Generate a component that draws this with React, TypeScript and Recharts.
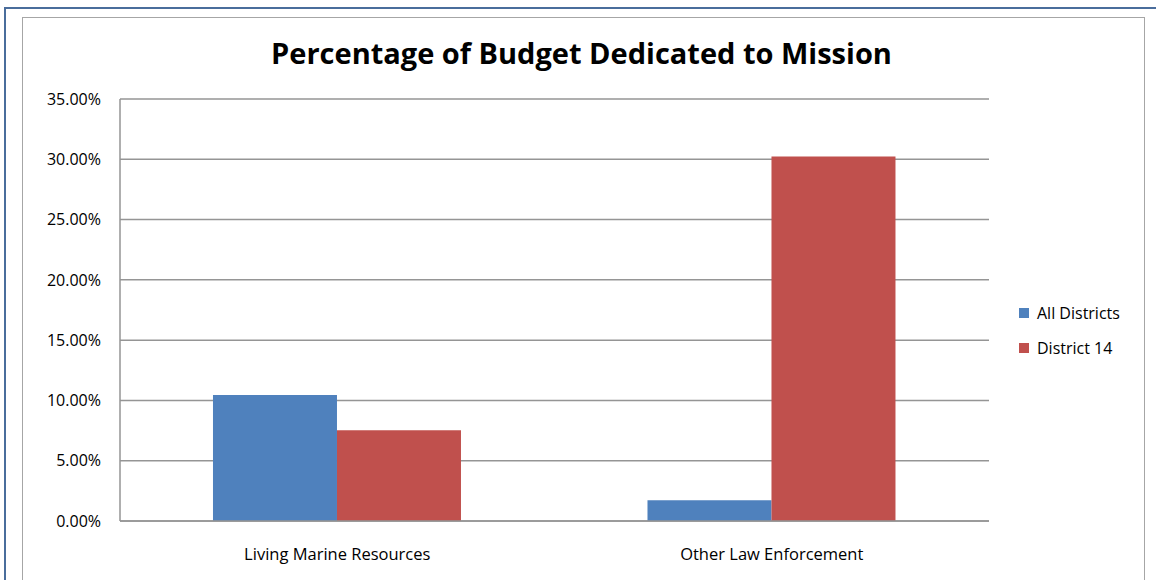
import React from 'react';
import { BarChart, Bar, XAxis, YAxis, CartesianGrid, Legend } from 'recharts';

const categories = ['Living Marine Resources', 'Other Law Enforcement'];
const allDistricts = [0.1045, 0.0172];
const district14 = [0.0752, 0.3024];
const yTicks = [0, 0.05, 0.1, 0.15, 0.2, 0.25, 0.3, 0.35];
const seriesNames = ['All Districts', 'District 14'];
const seriesColors = ['#4F81BD', '#C0504D'];
const title = 'Percentage of Budget Dedicated to Mission';

const data = categories.map((c, i) => ({
  name: c,
  all: allDistricts[i],
  d14: district14[i],
}));

const FONT = '"Open Sans", sans-serif';

const LegendContent = (props: any) => {
  const payload = props.payload || [];
  return (
    <div style={{ fontFamily: FONT, fontSize: 16, color: '#000' }}>
      {payload.map((p: any, i: number) => (
        <div key={i} style={{ height: 35, display: 'flex', alignItems: 'center' }}>
          <span style={{ display: 'inline-block', width: 10, height: 10, background: p.color, marginRight: 8 }} />
          <span>{p.value}</span>
        </div>
      ))}
    </div>
  );
};

export default function App() {
  return (
    <div style={{ position: 'absolute', left: 0, top: 0, width: 1156, height: 580, overflow: 'hidden', background: '#fff' }}>
      <div style={{ position: 'absolute', left: 4, top: 7, width: 1160, height: 600, borderTop: '2px solid #4a6d9c', borderLeft: '2px solid #4a6d9c' }} />
      <div style={{ position: 'absolute', left: 22, top: 17, width: 1121, height: 600, borderTop: '1.5px solid #a6a6a6', borderLeft: '1.5px solid #a6a6a6', borderRight: '1.5px solid #a6a6a6' }} />
      <div style={{ position: 'absolute', left: 0, top: 38, width: 1163, textAlign: 'center', fontFamily: FONT, fontWeight: 700, fontSize: 29, lineHeight: '29px', color: '#000', whiteSpace: 'nowrap' }}>
        {title}
      </div>
      <div style={{ position: 'absolute', left: 0, top: 0 }}>
        <BarChart
          width={1156}
          height={580}
          data={data}
          margin={{ top: 99, right: 167, bottom: 29, left: 20 }}
          barCategoryGap="21.4%"
          barGap={0}
        >
          <CartesianGrid vertical={false} stroke="#959595" strokeWidth={1.5} />
          <XAxis
            dataKey="name"
            height={30}
            tickLine={false}
            tickSize={0}
            tickMargin={27}
            axisLine={{ stroke: '#959595', strokeWidth: 1.5 }}
            tick={{ fontFamily: FONT, fontSize: 16.5, fill: '#000' }}
          />
          <YAxis
            width={100}
            domain={[0, 0.35]}
            ticks={yTicks}
            tickFormatter={(v: number) => (v * 100).toFixed(2) + '%'}
            tickLine={false}
            tickSize={0}
            tickMargin={19}
            axisLine={{ stroke: '#959595', strokeWidth: 1.5 }}
            tick={{ fontFamily: FONT, fontSize: 16, fill: '#000' }}
          />
          <Legend
            layout="vertical"
            align="center"
            verticalAlign="middle"
            content={<LegendContent />}
            wrapperStyle={{ left: 1019, top: 295.5, width: 130, height: 70 }}
          />
          <Bar dataKey="all" name={seriesNames[0]} fill={seriesColors[0]} isAnimationActive={false} />
          <Bar dataKey="d14" name={seriesNames[1]} fill={seriesColors[1]} isAnimationActive={false} />
        </BarChart>
      </div>
    </div>
  );
}
